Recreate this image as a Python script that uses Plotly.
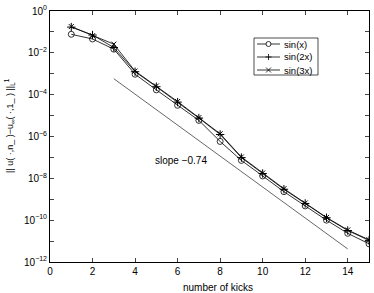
import plotly.graph_objects as go

kicks = list(range(1, 16))
sin_x = [0.077, 0.046, 0.015, 9.5e-4, 1.7e-4, 3.1e-5, 5.9e-6, 5.8e-7, 7.2e-8, 1.3e-8, 2.3e-9, 4.8e-10, 1.0e-10, 2.35e-11, 7.4e-12]
sin_2x = [0.17, 0.071, 0.018, 1.25e-3, 2.4e-4, 4.4e-5, 7.6e-6, 1.25e-6, 9.8e-8, 1.7e-8, 3.0e-9, 6.3e-10, 1.3e-10, 3.2e-11, 1.08e-11]
sin_3x = [0.18, 0.066, 0.026, 1.35e-3, 2.6e-4, 4.7e-5, 8.0e-6, 1.35e-6, 1.05e-7, 1.8e-8, 3.2e-9, 6.6e-10, 1.35e-10, 3.4e-11, 1.15e-11]
series_names = ["sin(x)", "sin(2x)", "sin(3x)"]
slope_x = [3, 14]
slope_y = [5.8e-4, 4.2e-12]
slope_label = "slope −0.74"
y_tickvals = [10.0 ** (-k) for k in range(0, 13)]
y_ticktext = [("10<sup>%s</sup>" % ("0" if k == 0 else "−%d" % k)) if k % 2 == 0 else "" for k in range(0, 13)]
x_tickvals = [0, 2, 4, 6, 8, 10, 12, 14]

FONT = "Liberation Sans, Arial, sans-serif"
L, R, T, B, W, H = 50, 5, 11, 31, 374, 293
PW, PH = W - L - R, H - T - B


def px(xp):
    return (xp - L) / PW


def py(yp):
    return (H - B - yp) / PH


fig = go.Figure()
fig.add_trace(go.Scatter(x=kicks, y=sin_x, name=series_names[0], mode="lines+markers",
                         line=dict(color="black", width=0.8),
                         marker=dict(symbol="circle-open", size=6, color="black", line=dict(width=0.8))))
fig.add_trace(go.Scatter(x=kicks, y=sin_2x, name=series_names[1], mode="lines+markers",
                         line=dict(color="black", width=0.8),
                         marker=dict(symbol="cross-thin-open", size=6, color="black", line=dict(width=1))))
fig.add_trace(go.Scatter(x=kicks, y=sin_3x, name=series_names[2], mode="lines+markers",
                         line=dict(color="black", width=0.8),
                         marker=dict(symbol="x-thin-open", size=5, color="black", line=dict(width=1))))
fig.add_trace(go.Scatter(x=slope_x, y=slope_y, mode="lines", showlegend=False,
                         line=dict(color="black", width=0.6)))

fig.add_annotation(x=4.86, y=-7.17, xref="x", yref="y", text=slope_label, showarrow=False,
                   xanchor="left", yanchor="middle", font=dict(size=10, color="black", family=FONT))
fig.add_annotation(x=px(218), y=py(287), xref="paper", yref="paper", text="number of kicks",
                   showarrow=False, xanchor="center", yanchor="middle",
                   font=dict(size=10, color="black", family=FONT))
fig.add_annotation(x=px(9), y=py(126), xref="paper", yref="paper",
                   text="|| u( ·,n_ )−u<sub>∞</sub>( ·,1_ ) ||<sub>L</sub><sup>1</sup>",
                   showarrow=False, textangle=-90, xanchor="center", yanchor="middle",
                   font=dict(size=9, color="black", family=FONT))

# legend box (drawn by hand to match the compact original legend)
fig.add_shape(type="rect", xref="paper", yref="paper", x0=px(254), x1=px(318), y0=py(75), y1=py(38),
              line=dict(color="black", width=0.7), fillcolor="white", layer="above")
rows = [44, 57, 70]
for i, (name, yr) in enumerate(zip(series_names, rows)):
    fig.add_shape(type="line", xref="paper", yref="paper", x0=px(257), x1=px(280), y0=py(yr), y1=py(yr),
                  line=dict(color="black", width=0.8), layer="above")
    cx, cy = px(268.5), py(yr)
    common = dict(xref="paper", yref="paper", xsizemode="pixel", ysizemode="pixel",
                  xanchor=cx, yanchor=cy, layer="above", line=dict(color="black", width=0.8))
    if i == 0:
        fig.add_shape(type="circle", x0=-2.5, x1=2.5, y0=-2.5, y1=2.5, fillcolor="white", **common)
    elif i == 1:
        fig.add_shape(type="path", path="M-3,0 L3,0 M0,-3 L0,3", **common)
    else:
        fig.add_shape(type="path", path="M-2.5,-2.5 L2.5,2.5 M-2.5,2.5 L2.5,-2.5", **common)
    fig.add_annotation(x=px(282), y=cy, xref="paper", yref="paper", text=name, showarrow=False,
                       xanchor="left", yanchor="middle", font=dict(size=9.5, color="black", family=FONT))

fig.update_xaxes(range=[0, 15], tickvals=x_tickvals, ticks="inside", ticklen=4, mirror="allticks",
                 showline=True, linecolor="black", linewidth=1, showgrid=False, zeroline=False,
                 tickfont=dict(size=10, color="black", family=FONT))
fig.update_yaxes(type="log", range=[-12, 0], tickvals=y_tickvals, ticktext=y_ticktext, ticks="inside",
                 ticklen=4, mirror="allticks", showline=True, linecolor="black", linewidth=1,
                 showgrid=False, zeroline=False, tickfont=dict(size=10, color="black", family=FONT))
fig.update_layout(width=W, height=H, margin=dict(l=L, r=R, t=T, b=B),
                  plot_bgcolor="white", paper_bgcolor="white", showlegend=False,
                  font=dict(family=FONT, size=10, color="black"))
fig.write_html("out.html", post_script="document.body.style.margin='0';",
               config={"displayModeBar": False})
